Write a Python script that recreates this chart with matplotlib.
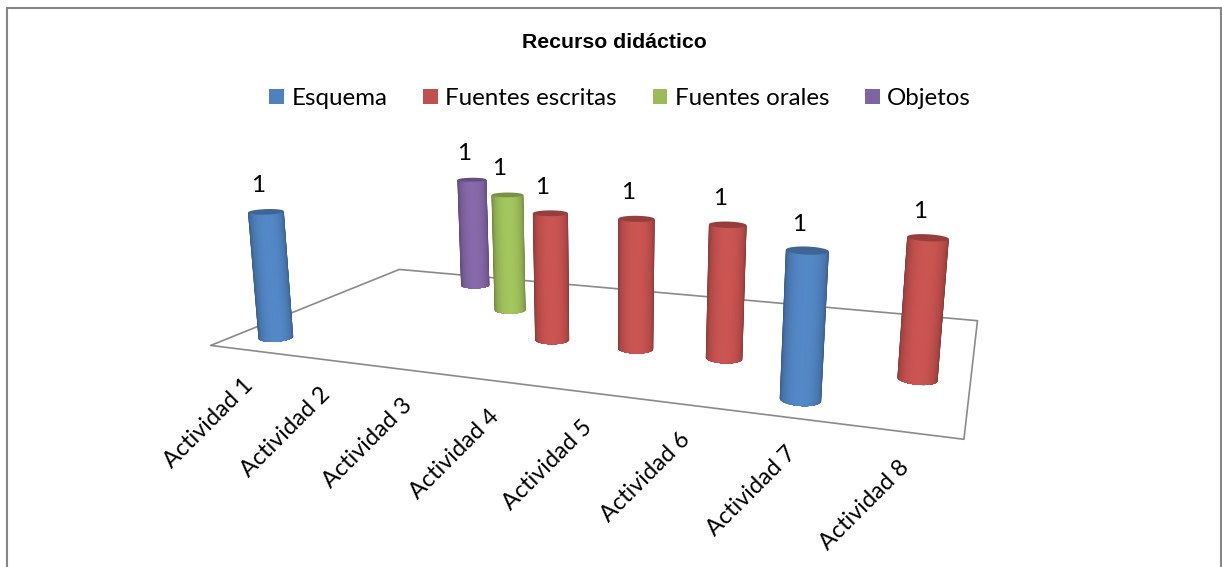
import numpy as np
import matplotlib
matplotlib.use("Agg")
import matplotlib.pyplot as plt
from matplotlib.colors import to_rgb
from matplotlib.patches import Patch, Rectangle
from mpl_toolkits.mplot3d import proj3d
from mpl_toolkits.mplot3d.art3d import Poly3DCollection

W, H = 1222, 567
TITLE = "Recurso didáctico"
CATEGORIES = ["Actividad %d" % i for i in range(1, 9)]
SERIES = ["Esquema", "Fuentes escritas", "Fuentes orales", "Objetos"]
COLORS = ["#4F81BD", "#C0504D", "#9BBB59", "#8064A2"]
ESQUEMA = [1, 0, 0, 0, 0, 0, 1, 0]
ESCRITAS = [0, 0, 0, 1, 1, 1, 0, 1]
ORALES = [0, 0, 1, 0, 0, 0, 0, 0]
OBJETOS = [0, 1, 0, 0, 0, 0, 0, 0]
VALUES = [ESQUEMA, ESCRITAS, ORALES, OBJETOS]
LABEL_FONT = "Lato"

# camera of the 3D chart: (category, series, value) -> picture pixels
CAMERA = np.array([[66.9518, 77.9082, -18.0424, 210.161],
                   [-0.659202, 1.72517, -134.756, 344.935],
                   [-0.0282393, 0.0770642, -0.0296558, 1.0]])
EYE = np.linalg.svd(CAMERA)[2][-1]
EYE = EYE[:3] / EYE[3]

fig = plt.figure(figsize=(W/100, H/100), dpi=100, facecolor="white")
ax = fig.add_axes([0, 0, 1, 1], projection="3d")
ax.set_axis_off()
ax.patch.set_visible(False)
ax.computed_zorder = False
ax.apply_aspect = lambda position=None: None

x0, x1 = ax.viewLim.intervalx
y0, y1 = ax.viewLim.intervaly
to_view = np.array([[(x1-x0)/W, 0, x0], [0, (y0-y1)/H, y1], [0, 0, 1]])
cam = to_view @ CAMERA
M = np.vstack([cam[0], cam[1], [0, 0.01, 0, 0], cam[2]])
ax.get_proj = lambda: M


def shade(color, f):
    return tuple(min(1, c*f) for c in to_rgb(color))


def cylinder(xc, yc, h, color, z, rx=0.195, ry=0.18, levels=28):
    # nested bands from the silhouette to the front line, so no seams show
    front = np.arctan2(EYE[1]-yc, EYE[0]-xc)
    for k, half in enumerate(np.linspace(np.pi/2, 0.03, levels)):
        t = front + np.linspace(-half, half, 40)
        cx = xc + rx*np.cos(t)
        cy = yc + ry*np.sin(t)
        verts = list(zip(cx, cy, np.zeros_like(cx))) + list(zip(cx[::-1], cy[::-1], np.full_like(cx, h)))
        band = Poly3DCollection([verts], facecolors=[shade(color, 0.62 + 0.44*np.cos(half)**0.7)],
                                edgecolors="none", linewidths=0, zorder=z + k*0.01)
        band.set_snap(False)
        ax.add_collection3d(band, autolim=False)
    t = np.linspace(0, 2*np.pi, 90)
    cap = list(zip(xc + rx*np.cos(t), yc + ry*np.sin(t), np.full_like(t, h)))
    top = Poly3DCollection([cap], facecolors=[shade(color, 0.78)], edgecolors="none", linewidths=0,
                           zorder=z + 0.5)
    top.set_snap(False)
    ax.add_collection3d(top, autolim=False)


def label(text, x, y, z, dx, dy, **kw):
    px, py, _ = proj3d.proj_transform(x, y, z, M)
    ax.annotate(text, xy=(px, py), xycoords="data", xytext=(dx, dy), textcoords="offset pixels",
                family=LABEL_FONT, color="black", annotation_clip=False, zorder=30, **kw)


n_cat, n_ser = len(CATEGORIES), len(SERIES)
floor = Poly3DCollection([[(0, 0, 0), (n_cat, 0, 0), (n_cat, n_ser, 0), (0, n_ser, 0)]],
                         facecolors="white", edgecolors="#8a8a8a", linewidths=1.2, zorder=1)
floor.set_snap(False)
ax.add_collection3d(floor, autolim=False)

for s, vals in enumerate(VALUES):
    for c, v in enumerate(vals):
        if v:
            cylinder(c+0.5, s+0.5, v, COLORS[s], z=10-2*s)
            label(str(v), c+0.5, s+0.5, v, -8, 26, ha="center", va="center", fontsize=17.5)

for c, name in enumerate(CATEGORIES):
    label(name, c+0.5, 0, 0, -5, -25, rotation=45, ha="right", va="top", rotation_mode="anchor",
          fontsize=16.8)

fig.text(614.5/W, 1-42/H, TITLE, ha="center", va="center", fontsize=15.3, fontweight="bold",
         family="Liberation Sans")
handles = [Patch(facecolor=c, edgecolor="none") for c in COLORS]
fig.legend(handles, SERIES, loc="center", bbox_to_anchor=(620/W, 1-98.5/H), ncol=4, frameon=False,
           prop={"family": LABEL_FONT, "size": 17.4}, handlelength=0.62, handleheight=0.62,
           handletextpad=0.29, columnspacing=1.48)
fig.add_artist(Rectangle((6.7/W, -0.1), (1221-6.7)/W, 1.1-8/H, transform=fig.transFigure,
                         facecolor="none", edgecolor="#868686", linewidth=1.5))

fig.savefig("out.png", dpi=100)
